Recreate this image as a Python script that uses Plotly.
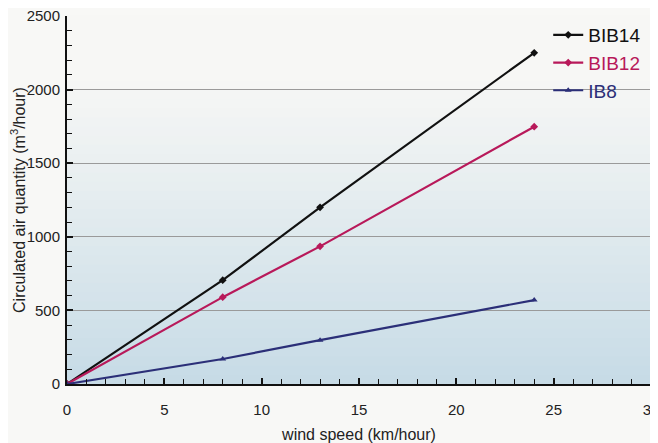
import plotly.graph_objects as go

wind_speed = [0, 8, 13, 24]
bib14 = [0, 705, 1200, 2250]
bib12 = [0, 590, 935, 1748]
ib8 = [0, 170, 298, 570]

series_names = ["BIB14", "BIB12", "IB8"]
series_values = [bib14, bib12, ib8]
series_colors = ["#111111", "#b8195a", "#2b2f78"]
series_symbols = ["diamond", "diamond", "triangle-up"]

fig = go.Figure()
for name, vals, col, sym in zip(series_names, series_values, series_colors, series_symbols):
    fig.add_trace(go.Scatter(
        x=wind_speed, y=vals, mode="lines+markers",
        name=f"<span style='color:{col}'>{name}</span>",
        line=dict(color=col, width=2.2),
        marker=dict(symbol=sym, size=6, color=col),
    ))

# vertical gradient background (white at top to light blue at bottom)
top = (247, 247, 245)
bottom = (198, 219, 230)
n = 40
shapes = []
for i in range(n):
    t0 = i / n
    t1 = (i + 1) / n
    f = max(0.0, 1 - ((t0 + t1) / 2) / 0.85)
    f = f ** 1.1
    c = tuple(int(round(top[k] + (bottom[k] - top[k]) * f)) for k in range(3))
    shapes.append(dict(type="rect", xref="paper", yref="paper",
                       x0=0, x1=1, y0=t0, y1=t1 + 0.002,
                       fillcolor=f"rgb{c}", line=dict(width=0), layer="below"))

# page body has an 8px margin, so the figure is sized to fit the 658x443 window
fig.update_layout(
    width=650, height=435,
    margin=dict(l=59, r=7, t=8, b=59, autoexpand=False),
    paper_bgcolor="#f8f8f6",
    plot_bgcolor="rgba(0,0,0,0)",
    shapes=shapes,
    font=dict(family="Liberation Sans, Arial, sans-serif", color="#1a1a1a"),
    showlegend=True,
    legend=dict(x=0.824, y=1.0, xanchor="left", yanchor="top",
                bgcolor="rgba(0,0,0,0)", font=dict(size=19),
                itemwidth=30, tracegroupgap=0),
)

fig.update_xaxes(
    range=[0, 30], dtick=5, tick0=0, automargin=False,
    showline=True, linecolor="#111", linewidth=2,
    ticks="inside", ticklen=6, tickcolor="#111", tickwidth=1.5,
    minor=dict(dtick=1, ticks="inside", ticklen=5, tickcolor="#111", tickwidth=1.2),
    showgrid=False, zeroline=False, ticklabelstandoff=11,
    ticklabeloverflow="allow",
    tickfont=dict(size=15, color="#222"),
    title=dict(text="wind speed (km/hour)", font=dict(size=16, color="#222"), standoff=14),
)
fig.update_yaxes(
    range=[0, 2500], dtick=500, tick0=0, automargin=False,
    showline=True, linecolor="#111", linewidth=2,
    ticks="inside", ticklen=6, tickcolor="#111", tickwidth=1.5,
    minor=dict(dtick=100, ticks="inside", ticklen=5, tickcolor="#111", tickwidth=1.2),
    showgrid=True, gridcolor="#9a9a9a", gridwidth=1,
    zeroline=False, ticklabelstandoff=2,
    ticklabeloverflow="allow",
    tickfont=dict(size=15, color="#222"),
    title=dict(text="Circulated air quantity (m<sup>3</sup>/hour)", font=dict(size=16, color="#222"), standoff=0),
)

fig.write_html("out.html")
